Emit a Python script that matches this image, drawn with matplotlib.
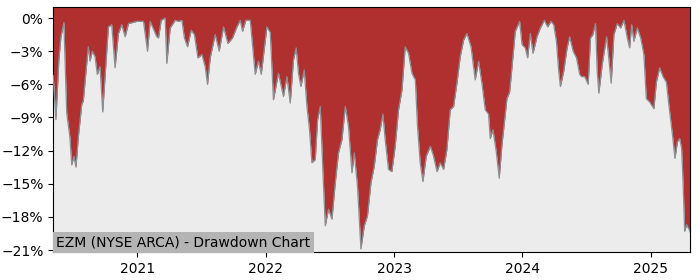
import matplotlib
matplotlib.use("Agg")
import matplotlib.pyplot as plt
import matplotlib.dates as mdates
from matplotlib.ticker import PercentFormatter
import pandas as pd
import numpy as np

# decimal year positions of the sampled points
years = [
    2020.345, 2020.366, 2020.389, 2020.405, 2020.428, 2020.450, 2020.475, 2020.489,
    2020.506, 2020.522, 2020.540, 2020.567, 2020.579, 2020.600, 2020.618, 2020.631,
    2020.649, 2020.670, 2020.688, 2020.709, 2020.730, 2020.748, 2020.774, 2020.800,
    2020.826, 2020.852, 2020.878, 2020.904, 2020.930, 2020.995, 2021.047, 2021.078,
    2021.099, 2021.151, 2021.164, 2021.185, 2021.216, 2021.229, 2021.255, 2021.294,
    2021.320, 2021.346, 2021.366, 2021.390, 2021.419, 2021.444, 2021.471, 2021.502,
    2021.528, 2021.546, 2021.567, 2021.606, 2021.637, 2021.671, 2021.705, 2021.741,
    2021.775, 2021.801, 2021.819, 2021.845, 2021.879, 2021.918, 2021.943, 2021.965,
    2022.009, 2022.035, 2022.060, 2022.099, 2022.138, 2022.165, 2022.191, 2022.216,
    2022.237, 2022.255, 2022.274, 2022.300, 2022.321, 2022.341, 2022.360, 2022.386,
    2022.404, 2022.425, 2022.446, 2022.464, 2022.489, 2022.516, 2022.542, 2022.567,
    2022.594, 2022.620, 2022.645, 2022.672, 2022.690, 2022.715, 2022.742, 2022.768,
    2022.793, 2022.820, 2022.846, 2022.871, 2022.892, 2022.913, 2022.931, 2022.957,
    2022.983, 2023.009, 2023.035, 2023.062, 2023.087, 2023.113, 2023.140, 2023.166,
    2023.183, 2023.204, 2023.225, 2023.251, 2023.283, 2023.308, 2023.335, 2023.360,
    2023.386, 2023.412, 2023.438, 2023.464, 2023.490, 2023.516, 2023.542, 2023.568,
    2023.600, 2023.633, 2023.659, 2023.685, 2023.711, 2023.737, 2023.750, 2023.771,
    2023.797, 2023.820, 2023.841, 2023.859, 2023.880, 2023.901, 2023.919, 2023.945,
    2023.979, 2023.998, 2024.023, 2024.041, 2024.062, 2024.083, 2024.114, 2024.140,
    2024.171, 2024.197, 2024.223, 2024.244, 2024.265, 2024.283, 2024.296, 2024.322,
    2024.348, 2024.368, 2024.395, 2024.421, 2024.446, 2024.460, 2024.485, 2024.512,
    2024.530, 2024.548, 2024.569, 2024.582, 2024.595, 2024.621, 2024.655, 2024.672,
    2024.691, 2024.712, 2024.738, 2024.764, 2024.790, 2024.816, 2024.834, 2024.850,
    2024.867, 2024.894, 2024.920, 2024.945, 2024.964, 2024.990, 2025.023, 2025.042,
    2025.068, 2025.094, 2025.120, 2025.140, 2025.167, 2025.187, 2025.206, 2025.224,
    2025.239, 2025.250, 2025.263, 2025.278, 2025.296, 2025.306,
]

# drawdown in percent
drawdown = [
    -5.2, -9.2, -3.8, -1.7, -0.4, -8.6, -10.8, -13.3,
    -12.5, -13.5, -10.8, -7.8, -7.5, -4.8, -2.6, -3.9,
    -3.0, -3.5, -5.1, -4.4, -8.5, -5.3, -0.8, -0.6,
    -4.5, -1.4, -0.6, -1.7, -0.5, -0.3, -0.3, -3.0,
    -0.3, -1.7, -1.8, -0.2, 0.0, -4.1, -0.9, -0.2,
    -0.3, -0.2, -1.8, -2.6, -1.1, -1.5, -3.6, -3.3,
    -4.4, -6.0, -3.6, -1.5, -3.0, -0.8, -2.3, -1.8,
    -0.8, -0.2, -1.2, -0.2, -0.2, -5.1, -3.9, -5.1,
    -0.8, -1.3, -7.4, -5.0, -7.1, -5.3, -7.7, -3.8,
    -2.7, -5.0, -6.2, -4.7, -8.0, -10.1, -13.1, -12.8,
    -9.2, -8.0, -14.0, -18.8, -17.3, -18.2, -14.9, -12.2,
    -11.0, -8.0, -9.8, -14.0, -12.2, -15.2, -20.9, -18.8,
    -17.9, -14.9, -13.4, -11.0, -10.1, -8.7, -11.0, -13.7,
    -13.9, -11.6, -8.3, -6.5, -2.6, -3.2, -5.0, -5.6,
    -9.8, -13.1, -14.8, -12.5, -11.6, -12.5, -13.9, -13.1,
    -13.7, -11.9, -8.3, -8.0, -5.9, -3.5, -2.0, -1.4,
    -2.6, -5.6, -3.9, -5.9, -8.3, -8.7, -10.9, -10.1,
    -12.1, -14.5, -11.5, -9.6, -7.3, -6.7, -4.5, -1.2,
    -0.3, -2.4, -2.7, -3.6, -1.4, -3.2, -1.7, -0.9,
    -0.2, -0.8, -0.3, -0.6, -2.1, -4.8, -6.2, -4.8,
    -2.7, -1.7, -3.0, -3.6, -5.1, -5.3, -5.3, -6.0,
    -1.8, -1.5, -0.5, -4.8, -6.8, -4.2, -1.7, -3.6,
    -5.9, -1.5, -0.5, -0.9, -0.2, -1.8, -2.7, -0.6,
    -2.1, -0.9, -1.8, -3.3, -7.3, -7.6, -8.2, -5.8,
    -4.5, -5.3, -5.8, -7.9, -10.5, -12.7, -11.2, -10.9,
    -11.8, -14.8, -19.3, -18.7, -19.1, -19.4,
]

yticks = [0, -3, -6, -9, -12, -15, -18, -21]
title_text = "EZM (NYSE ARCA) - Drawdown Chart"


def to_date(y):
    yr = int(np.floor(y))
    start = pd.Timestamp(year=yr, month=1, day=1)
    end = pd.Timestamp(year=yr + 1, month=1, day=1)
    return start + (end - start) * (y - yr)


dates = [to_date(y) for y in years]

fig = plt.figure(figsize=(7, 2.8), dpi=100)
ax = fig.add_axes([0.076, 0.099, 0.910, 0.876])
ax.set_facecolor("#ececec")

ylo, yhi = -21.2, 1.0
ax.fill_between(dates, drawdown, yhi + 1, color="#b03030", linewidth=0, zorder=2)
ax.plot(dates, drawdown, color="#8a8f94", linewidth=0.9, zorder=3)

ax.set_xlim(dates[0], dates[-1])
ax.set_ylim(ylo, yhi)
ax.set_yticks(yticks)
ax.yaxis.set_major_formatter(PercentFormatter(xmax=100, decimals=0))
ax.xaxis.set_major_locator(mdates.YearLocator())
ax.xaxis.set_major_formatter(mdates.DateFormatter("%Y"))

ax.text(0.005, 0.012, title_text, transform=ax.transAxes, fontsize=10,
        ha="left", va="bottom", zorder=5,
        bbox=dict(facecolor="#b4b4b4", edgecolor="none", pad=2.5))

fig.savefig("out.png", dpi=100)
